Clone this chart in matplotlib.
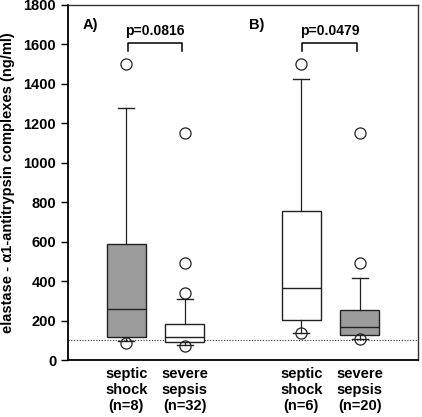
import matplotlib
matplotlib.use("Agg")
import matplotlib.pyplot as plt

plt.rcParams['font.family'] = ['Liberation Sans', 'DejaVu Sans']

groups = ["septic\nshock\n(n=8)", "severe\nsepsis\n(n=32)", "septic\nshock\n(n=6)", "severe\nsepsis\n(n=20)"]
positions = [1, 2, 4, 5]
q1 = [117, 90, 203, 127]
med = [260, 118, 363, 167]
q3 = [586, 181, 757, 254]
whislo = [95, 76, 139, 105]
whishi = [1278, 309, 1425, 414]
fliers = [[1500, 88], [1150, 490, 341, 71], [1500, 139], [1150, 490, 105]]
filled = [True, False, False, True]
pvals = ["p=0.0816", "p=0.0479"]
panel_labels = ["A)", "B)"]
cutoff = 100

fig = plt.figure(figsize=(4.22, 4.17), dpi=100)
ax = fig.add_axes([68/422, 1-360/417, 350/422, 355/417])

stats = []
for i in range(4):
    stats.append(dict(q1=q1[i], med=med[i], q3=q3[i], whislo=whislo[i],
                      whishi=whishi[i], fliers=fliers[i], label=groups[i]))

bp = ax.bxp(stats, positions=positions, widths=0.68, patch_artist=True,
            capwidths=0.27,
            boxprops=dict(edgecolor='#222222', linewidth=1.0),
            medianprops=dict(color='#222222', linewidth=1.0),
            whiskerprops=dict(color='#222222', linewidth=0.9),
            capprops=dict(color='#222222', linewidth=1.0),
            flierprops=dict(marker='o', markerfacecolor='none',
                            markeredgecolor='#222222', markersize=8,
                            markeredgewidth=0.9))
for patch, f in zip(bp['boxes'], filled):
    patch.set_facecolor('#9c9c9c' if f else 'white')

ax.axhline(cutoff, color='#333333', linestyle=(0, (1, 1.5)), linewidth=0.8, zorder=0)

ax.set_xlim(0, 6)
ax.set_ylim(0, 1800)
ax.set_yticks(range(0, 1801, 200))
ax.tick_params(axis='y', direction='out', length=5, width=1, labelsize=10.5)
for lab in ax.get_yticklabels():
    lab.set_fontweight('bold')
ax.tick_params(axis='x', length=0, labelsize=10.5, pad=5)
ax.set_xticks(positions)
ax.set_xticklabels(groups, fontweight='bold', linespacing=1.2)

for sp in ['left', 'bottom']:
    ax.spines[sp].set_linewidth(1.3)
for sp in ['top', 'right']:
    ax.spines[sp].set_linewidth(1.0)
    ax.spines[sp].set_color('#333333')

ax.set_ylabel("elastase - α1-antitrypsin complexes (ng/ml)", fontweight='bold',
              fontsize=10.5, labelpad=6)

# brackets
for (x0, x1), p in zip([(1, 2), (4, 5)], pvals):
    xa, xb = x0 + 0.02, x1 - 0.05
    ax.plot([xa, xa, xb, xb], [1565, 1605, 1605, 1565], color='black', linewidth=1.1)
    ax.text((xa + xb) / 2, 1635, p, ha='center', va='bottom', fontweight='bold', fontsize=10)

ax.text(0.25, 1700, panel_labels[0], ha='left', va='center', fontweight='bold', fontsize=10.5)
ax.text(3.1, 1700, panel_labels[1], ha='left', va='center', fontweight='bold', fontsize=10.5)

fig.savefig("out.png", dpi=100)
